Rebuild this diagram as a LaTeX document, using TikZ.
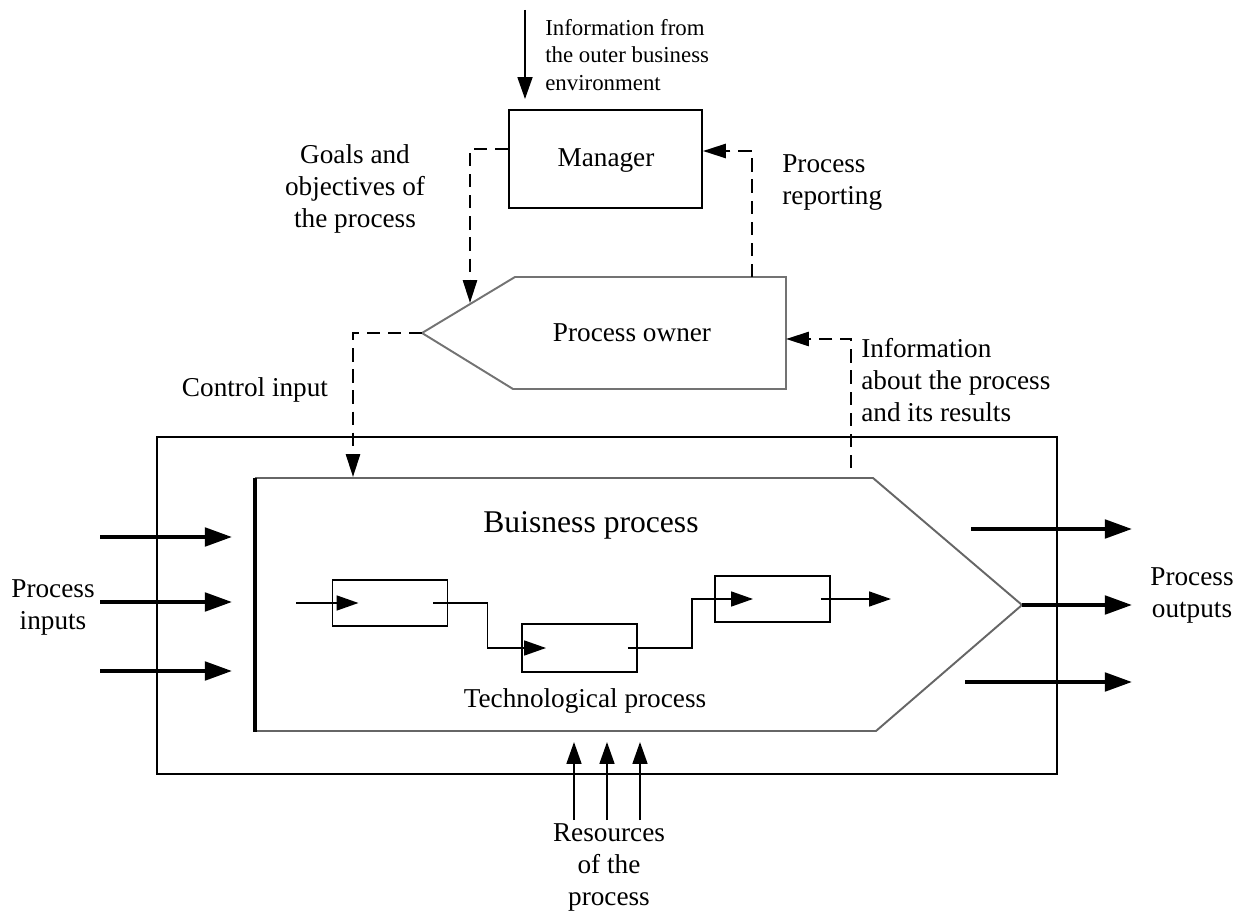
\documentclass[tikz,border=0pt]{standalone}
\usepackage{fontspec}
\setmainfont{Liberation Serif}
\usetikzlibrary{arrows.meta}
\tikzset{
  lbl/.style={font=\fontsize{15.5}{18.3}\selectfont, inner sep=0pt},
  smalllbl/.style={font=\fontsize{13}{15.6}\selectfont, inner sep=0pt, align=left},
  grayline/.style={draw=black!55, line width=1.1pt},
  dashline/.style={line width=1.3pt, dash pattern=on 7.5pt off 4.5pt, -{Triangle[length=13pt,width=8pt]}},
  bigarrow/.style={line width=2.3pt, -{Triangle[length=15.5pt,width=10.5pt]}},
  sarrow/.style={line width=1pt, -{Triangle[length=12.5pt,width=8.5pt]}},
  tarrow/.style={line width=1.1pt, -{Triangle[length=12.5pt,width=8.5pt]}},
  smallbox/.style={draw, line width=1.1pt, minimum width=2.3cm, minimum height=0.92cm, inner sep=0pt}
}
\begin{document}
\begin{tikzpicture}[x=0.02cm, y=-0.02cm]
\useasboundingbox (0,0) rectangle (1242,912);

% Manager
\node[draw, line width=1.1pt, minimum width=3.86cm, minimum height=1.96cm, inner sep=0pt] (mgr) at (605.5,159) {};
\node[lbl, anchor=base] (mgrtxt) at (606,167) {Manager};
\coordinate (infotop) at (525,10);
\draw[tarrow, shorten >=0.2cm] (infotop) -- (infotop |- mgr.north);
\node[smalllbl, anchor=north west] (infotxt) at (545,19) {Information from\\the outer business\\environment};

% Process owner
\draw[grayline] (515,277) -- (786,277) -- (786,389) -- (513,389) -- (422,333) -- cycle;
\coordinate (potip) at (422,333);
\coordinate (gtip) at (470,303);
\coordinate (prbase) at (752,277);
\coordinate (poin) at (786,339);
\node[lbl, anchor=base] (po) at (632,342) {Process owner};

\node[lbl, anchor=north, align=center] (goals) at (355,144) {Goals and\\objectives of\\the process};
\node[lbl, anchor=north west, align=left] (prep) at (782,154) {Process\\reporting};
\node[lbl, anchor=base] (ctrltxt) at (255,397) {Control input};
\node[lbl, anchor=north west, align=left] (infoabout) at (861,338) {Information\\about the process\\and its results};

\draw[dashline] ([yshift=0.2cm]mgr.west) -| (gtip);
\draw[dashline] (prbase) |- ([yshift=0.16cm]mgr.east);
\coordinate (ctip) at (353,477);
\draw[dashline] (potip) -| (ctip);
\coordinate (ibase) at (851,468);
\draw[dashline] (ibase) |- (poin);

% Outer box
\draw[line width=1.3pt] (157,437) rectangle (1057,774);

% Business process
\draw[draw=black!60, line width=1.1pt] (255,478) -- (873,478) -- (1022,605) -- (876,731) -- (255,731);
\draw[line width=2.3pt] (255,478) -- (255,732);
\coordinate (bptip) at (1022,605);
\node[font=\fontsize{18}{21}\selectfont, inner sep=0pt, anchor=base] (bp) at (591,533) {Buisness process};
\node[lbl, anchor=base] (tp) at (585,707) {Technological process};

% Small boxes
\node[smallbox] (b1) at (390,603) {};
\node[smallbox, minimum height=0.96cm] (b2) at (579.5,648) {};
\node[smallbox] (b3) at (772.5,599) {};
\coordinate (bin) at (296,603);
\coordinate (bout) at (891,599);
\draw[sarrow] (bin) -- ([xshift=0.54cm]b1.west);
\draw[sarrow] ([xshift=-0.3cm]b1.east) -- ++(54,0) |- ([xshift=0.5cm]b2.west);
\draw[sarrow] ([xshift=-0.2cm]b2.east) -- ++(64,0) |- ([xshift=0.78cm]b3.west);
\draw[sarrow] ([xshift=-0.2cm]b3.east) -- (bout);

% Inputs
\foreach \i/\y in {1/537, 2/602, 3/671} {
  \coordinate (ia\i) at (100,\y);
  \coordinate (ib\i) at (232,\y);
  \draw[bigarrow] (ia\i) -- (ib\i);
}
\node[lbl, anchor=north, align=center] (intxt) at (53,579) {Process\\inputs};

% Outputs
\coordinate (oa1) at (971,529);
\coordinate (ob1) at (1132,529);
\coordinate (ob2) at (1132,605);
\coordinate (oa3) at (965,682);
\coordinate (ob3) at (1132,682);
\draw[bigarrow] (oa1) -- (ob1);
\draw[bigarrow] (bptip) -- (ob2);
\draw[bigarrow] (oa3) -- (ob3);
\node[lbl, anchor=north, align=center] (outtxt) at (1192,567) {Process\\outputs};

% Resources
\foreach \i/\x in {1/574, 2/607, 3/640} {
  \coordinate (ra\i) at (\x,820);
  \coordinate (rb\i) at (\x,742);
  \draw[tarrow] (ra\i) -- (rb\i);
}
\node[lbl, anchor=north, align=center] (restxt) at (609,823) {Resources\\of the\\process};
\end{tikzpicture}
\end{document}
